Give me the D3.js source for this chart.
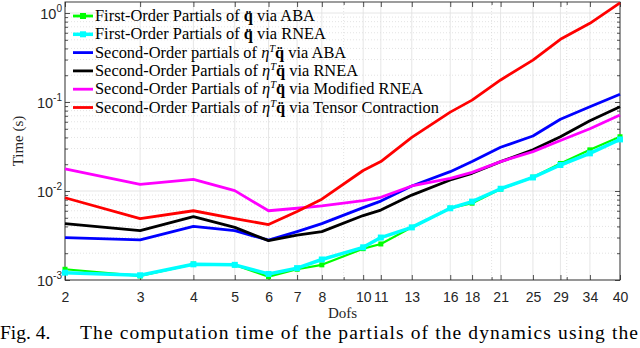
<!DOCTYPE html>
<html>
<head>
<meta charset="utf-8">
<script src="https://cdn.jsdelivr.net/npm/d3@7"></script>
<style>
  html, body { margin: 0; padding: 0; background: #fff; }
  svg { display: block; }
</style>
</head>
<body>
<svg id="chart" width="640" height="348"></svg>
<script>
const dofs = [2, 3, 4, 5, 6, 7, 8, 10, 11, 13, 16, 18, 21, 25, 29, 34, 40];

const firstAba = [0.00132, 0.00111, 0.00151, 0.00148, 0.00109, 0.00132, 0.00148, 0.00225, 0.00254, 0.0039, 0.0064, 0.0073, 0.0105, 0.0143, 0.0204, 0.029, 0.0407];
const firstRnea = [0.00121, 0.00113, 0.0015, 0.00148, 0.00117, 0.00136, 0.0017, 0.00233, 0.003, 0.0039, 0.0064, 0.0076, 0.0106, 0.0142, 0.0196, 0.0265, 0.038];
const secondAba = [0.003, 0.00282, 0.004, 0.00358, 0.0028, 0.0035, 0.0043, 0.0065, 0.0077, 0.0114, 0.0165, 0.0214, 0.031, 0.0415, 0.064, 0.0886, 0.122];
const secondRnea = [0.0043, 0.00358, 0.00515, 0.0039, 0.00277, 0.0032, 0.0035, 0.0053, 0.0061, 0.009, 0.0133, 0.0158, 0.0214, 0.029, 0.0407, 0.0617, 0.0886];
const secondModRnea = [0.0177, 0.0119, 0.0135, 0.0101, 0.006, 0.0064, 0.0068, 0.0078, 0.0085, 0.0114, 0.0139, 0.0162, 0.0214, 0.0277, 0.037, 0.05, 0.0714];
const secondTensor = [0.0084, 0.0049, 0.006, 0.0049, 0.0042, 0.0059, 0.0081, 0.017, 0.0214, 0.04, 0.077, 0.105, 0.177, 0.296, 0.506, 0.766, 1.3];

const seriesValues = [firstAba, firstRnea, secondAba, secondRnea, secondModRnea, secondTensor];
const seriesColors = ["#00ff00", "#00ffff", "#0000ff", "#000000", "#ff00ff", "#ff0000"];
const legendPre = ["First-Order Partials of", "First-Order Partials of", "Second-Order partials of",
  "Second-Order Partials of", "Second-Order Partials of", "Second-Order Partials of"];
const legendEta = [false, false, true, true, true, true];
const legendPost = ["via ABA", "via RNEA", "via ABA", "via RNEA", "via Modified RNEA", "via Tensor Contraction"];

const yMajor = [1e-3, 1e-2, 1e-1, 1];
const xMinorExtra = [9, 20, 30];

const serif = "'Liberation Serif', 'Times New Roman', serif";
const sans = "'Liberation Sans', Arial, sans-serif";
const axisColor = "#262626";

const svg = d3.select("#chart");
const plotL = 65, plotR = 620, plotT = 2, plotB = 280;

const x = d3.scaleLog().domain([2, 40]).range([plotL, plotR]);
const y = d3.scaleLog().domain([1e-3, 1.33]).range([plotB, plotT]);

// minor y positions
const yMinor = [];
for (let d = 1e-3; d < 1.5; d *= 10) {
  for (let m = 2; m <= 9; m++) {
    const v = m * d;
    if (v <= 1.33) yMinor.push(v);
  }
}

const grid = svg.append("g");
grid.selectAll("line.ymin").data(yMinor).join("line")
  .attr("x1", plotL).attr("x2", plotR)
  .attr("y1", d => y(d)).attr("y2", d => y(d))
  .attr("stroke", "#d0d0d0").attr("stroke-width", 0.6).attr("stroke-dasharray", "1,2");
grid.selectAll("line.xmin").data(xMinorExtra).join("line")
  .attr("x1", d => x(d)).attr("x2", d => x(d))
  .attr("y1", plotT).attr("y2", plotB)
  .attr("stroke", "#d0d0d0").attr("stroke-width", 0.6).attr("stroke-dasharray", "1,2");
grid.selectAll("line.ymaj").data(yMajor).join("line")
  .attr("x1", plotL).attr("x2", plotR)
  .attr("y1", d => y(d)).attr("y2", d => y(d))
  .attr("stroke", "#e0e0e0").attr("stroke-width", 0.8);
grid.selectAll("line.xmaj").data(dofs).join("line")
  .attr("x1", d => x(d)).attr("x2", d => x(d))
  .attr("y1", plotT).attr("y2", plotB)
  .attr("stroke", "#e0e0e0").attr("stroke-width", 0.8);

// axes with inward ticks on all four sides
const axB = d3.axisBottom(x).tickValues(dofs).tickFormat(d3.format("d")).tickSizeInner(-5).tickSizeOuter(0).tickPadding(12);
const axT = d3.axisTop(x).tickValues(dofs).tickFormat("").tickSizeInner(-5).tickSizeOuter(0);
const axL = d3.axisLeft(y).tickValues(yMajor).tickFormat("").tickSizeInner(-5).tickSizeOuter(0);
const axR = d3.axisRight(y).tickValues(yMajor).tickFormat("").tickSizeInner(-5).tickSizeOuter(0);
const axLm = d3.axisLeft(y).tickValues(yMinor).tickFormat("").tickSizeInner(-3).tickSizeOuter(0);
const axRm = d3.axisRight(y).tickValues(yMinor).tickFormat("").tickSizeInner(-3).tickSizeOuter(0);
const axBm = d3.axisBottom(x).tickValues(xMinorExtra).tickFormat("").tickSizeInner(-3).tickSizeOuter(0);
const axTm = d3.axisTop(x).tickValues(xMinorExtra).tickFormat("").tickSizeInner(-3).tickSizeOuter(0);

function styleAxis(g) {
  g.select(".domain").remove();
  g.selectAll("line").attr("stroke", axisColor).attr("stroke-width", 0.8);
  g.selectAll("text").attr("fill", axisColor).attr("font-family", sans).attr("font-size", 14);
}

svg.append("g").attr("transform", `translate(0,${plotB})`).call(axB).call(styleAxis);
svg.append("g").attr("transform", `translate(0,${plotT})`).call(axT).call(styleAxis);
svg.append("g").attr("transform", `translate(${plotL},0)`).call(axL).call(styleAxis);
svg.append("g").attr("transform", `translate(${plotR},0)`).call(axR).call(styleAxis);
svg.append("g").attr("transform", `translate(${plotL},0)`).call(axLm).call(styleAxis);
svg.append("g").attr("transform", `translate(${plotR},0)`).call(axRm).call(styleAxis);
svg.append("g").attr("transform", `translate(0,${plotB})`).call(axBm).call(styleAxis);
svg.append("g").attr("transform", `translate(0,${plotT})`).call(axTm).call(styleAxis);

// y tick labels as 10^n
const yLab = svg.append("g").selectAll("text").data(yMajor).join("text")
  .attr("x", plotL - 3).attr("y", d => y(d) + 6)
  .attr("text-anchor", "end").attr("font-family", sans).attr("font-size", 14.5).attr("fill", axisColor);
yLab.append("tspan").text("10");
yLab.append("tspan").attr("dy", -7).attr("font-size", 10).text(d => Math.round(Math.log10(d)).toString());

// box
svg.append("rect").attr("x", plotL).attr("y", plotT).attr("width", plotR - plotL).attr("height", plotB - plotT)
  .attr("fill", "none").attr("stroke", axisColor).attr("stroke-width", 0.9);

// series
const line = d3.line().x((d, i) => x(dofs[i])).y(d => y(d));
const plot = svg.append("g");
seriesValues.forEach((vals, k) => {
  plot.append("path").datum(vals)
    .attr("d", line)
    .attr("fill", "none")
    .attr("stroke", seriesColors[k])
    .attr("stroke-width", k === 1 ? 3.5 : (k === 0 ? 2.2 : 2.8))
    .attr("stroke-linejoin", "round");
  if (k < 2) {
    const s = k === 1 ? 6 : 5;
    plot.selectAll(null).data(vals).join("rect")
      .attr("x", (d, i) => x(dofs[i]) - s / 2)
      .attr("y", d => y(d) - s / 2)
      .attr("width", s).attr("height", s)
      .attr("fill", seriesColors[k]);
  }
});

// legend
const legend = svg.append("g");
seriesColors.forEach((c, k) => {
  const ly = 16 + k * 18.3;
  legend.append("line").attr("x1", 73).attr("x2", 93).attr("y1", ly).attr("y2", ly)
    .attr("stroke", c).attr("stroke-width", k === 1 ? 3.5 : 2.8);
  if (k < 2) {
    legend.append("rect").attr("x", 80).attr("y", ly - 3).attr("width", 6).attr("height", 6).attr("fill", c);
  }
  const t = legend.append("text").attr("x", 95).attr("y", ly + 5)
    .attr("font-family", serif).attr("font-size", 16.4).attr("fill", "#000");
  t.append("tspan").text(legendPre[k] + " ");
  if (legendEta[k]) {
    t.append("tspan").attr("font-style", "italic").text("\u03b7");
    t.append("tspan").attr("font-style", "italic").attr("font-size", 10.5).attr("dy", -6).text("T");
    t.append("tspan").attr("font-weight", "bold").attr("dy", 6).text("q\u0308");
  } else {
    t.append("tspan").attr("font-weight", "bold").text("q\u0308");
  }
  t.append("tspan").text(" " + legendPost[k]);
});

// axis titles
svg.append("text").attr("x", (plotL + plotR) / 2).attr("y", 318)
  .attr("text-anchor", "middle").attr("font-family", serif).attr("font-size", 15).attr("fill", axisColor)
  .text("Dofs");
svg.append("text").attr("transform", `translate(23,${(plotT + plotB) / 2}) rotate(-90)`)
  .attr("text-anchor", "middle").attr("font-family", serif).attr("font-size", 15).attr("fill", axisColor)
  .text("Time (s)");

// caption
svg.append("text").attr("x", 0).attr("y", 339)
  .attr("font-family", serif).attr("font-size", 19.5).attr("fill", "#000")
  .text("Fig. 4.");
svg.append("text").attr("x", 80).attr("y", 339)
  .attr("font-family", serif).attr("font-size", 19.5).attr("fill", "#000")
  .attr("textLength", 558).attr("lengthAdjust", "spacing")
  .text("The computation time of the partials of the dynamics using the");
</script>
</body>
</html>
